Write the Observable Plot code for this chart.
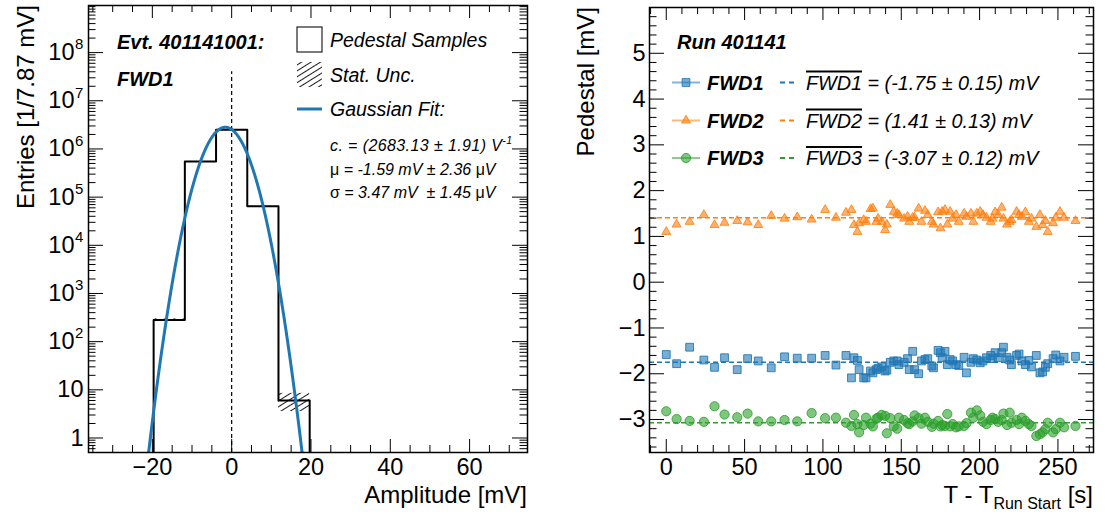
<!DOCTYPE html>
<html><head><meta charset="utf-8">
<script src="https://cdn.jsdelivr.net/npm/d3@7"></script>
<script src="https://cdn.jsdelivr.net/npm/@observablehq/plot@0.6"></script>
<style>
body{margin:0;background:#fff;}
#wrap{display:flex;width:1105px;height:516px;}
#wrap svg{font-family:"Liberation Sans",Arial,Helvetica,sans-serif;}
</style></head><body><div id="wrap"></div>
<script>
// ---------------- LEFT PANEL DATA ----------------
const binLeftEdges = [-19.675, -11.805, -3.935, 3.935, 11.805];
const binWidth = 7.87;
const binCounts = [280, 5.5e5, 2.5e6, 6.5e4, 6];
const fitMu = -1.59;      // mV
const fitSigma = 3.47;    // mV
const leftXTicksMajor = [-20, 0, 20, 40, 60];
const leftDecades = [0, 1, 2, 3, 4, 5, 6, 7, 8];

// ---------------- RIGHT PANEL DATA ----------------
const times = [0, 6.6, 14.9, 24.0, 30.8, 37.2, 45.3, 51.9, 58.7, 67.0, 75.5, 83.6, 92.8, 101.4, 108.3,
  114.7, 118.2, 119.8, 122.0, 123.1, 126.0, 127.5, 130.4, 131.9, 134.1, 135.2, 137.5, 139.7, 140.8, 143.0,
  145.2, 147.4, 148.5, 151.8, 154.0, 155.1, 157.3, 158.5, 161.1, 162.9, 165.1, 166.9, 169.5, 170.6, 173.5,
  175.0, 176.1, 177.9, 179.4, 181.2, 182.8, 185.0, 186.7, 190.1, 191.6, 194.5, 196.0, 198.2, 200.4, 202.2,
  204.4, 207.1, 208.2, 209.9, 211.9, 214.1, 215.2, 217.5, 219.2, 220.3, 223.6, 225.2, 227.0, 229.2, 231.4,
  233.1, 236.2, 238.5, 240.2, 242.0, 243.5, 246.9, 248.6, 251.3, 253.9, 261.2];
const fwd1 = [-1.58, -1.78, -1.42, -1.70, -1.86, -1.65, -1.91, -1.67, -1.72, -1.87, -1.63, -1.66, -1.66, -1.60, -1.81,
  -1.60, -2.09, -1.65, -1.71, -1.91, -2.09, -2.09, -1.94, -1.98, -1.91, -1.88, -1.85, -1.94, -1.92, -1.75,
  -1.72, -1.72, -1.80, -1.75, -1.67, -1.91, -1.51, -1.91, -2.00, -1.72, -1.69, -1.67, -1.83, -1.87, -1.49,
  -1.54, -1.65, -1.51, -1.80, -1.69, -1.72, -1.80, -1.82, -1.64, -1.98, -1.75, -1.67, -1.70, -1.76, -1.72,
  -1.65, -1.60, -1.67, -1.54, -1.65, -1.54, -1.42, -1.64, -1.70, -1.80, -1.60, -1.57, -1.72, -1.80, -1.71,
  -1.85, -1.60, -1.98, -1.96, -1.86, -1.78, -1.67, -1.59, -1.72, -1.64, -1.62];
const fwd2 = [1.10, 1.26, 1.32, 1.47, 1.25, 1.30, 1.34, 1.31, 1.25, 1.45, 1.39, 1.42, 1.37, 1.58, 1.41,
  1.52, 1.58, 1.25, 1.10, 1.29, 1.36, 1.32, 1.60, 1.61, 1.32, 1.39, 1.32, 1.14, 1.26, 1.69,
  1.54, 1.50, 1.47, 1.39, 1.43, 1.32, 1.41, 1.41, 1.61, 1.32, 1.56, 1.47, 1.32, 1.26, 1.53,
  1.18, 1.54, 1.58, 1.26, 1.54, 1.39, 1.47, 1.32, 1.50, 1.43, 1.50, 1.32, 1.50, 1.54, 1.47,
  1.41, 1.32, 1.39, 1.53, 1.47, 1.63, 1.39, 1.26, 1.32, 1.36, 1.54, 1.47, 1.43, 1.53, 1.32,
  1.39, 1.21, 1.47, 1.25, 1.34, 1.10, 1.29, 1.41, 1.54, 1.41, 1.34];
const fwd3 = [-2.82, -2.99, -3.03, -3.05, -2.71, -2.89, -2.95, -2.87, -3.04, -3.04, -3.01, -3.04, -2.86, -2.97, -2.96,
  -3.07, -3.14, -2.90, -3.10, -3.28, -3.12, -2.96, -3.09, -3.15, -2.98, -2.96, -2.90, -2.92, -3.30, -2.97,
  -3.15, -3.20, -2.96, -3.01, -3.08, -3.10, -3.04, -2.91, -2.97, -3.09, -2.96, -3.05, -3.16, -3.09, -3.03,
  -3.15, -3.12, -3.14, -2.88, -3.15, -3.10, -3.17, -3.15, -3.14, -3.08, -2.85, -2.96, -2.80, -2.91, -3.05,
  -3.10, -3.01, -2.96, -2.99, -3.05, -3.01, -2.87, -3.12, -2.85, -3.07, -3.01, -3.10, -2.96, -3.03, -3.10,
  -3.14, -3.36, -3.32, -3.28, -3.21, -3.07, -3.28, -3.21, -3.07, -3.17, -3.14];
const seriesNames = ["FWD1", "FWD2", "FWD3"];
const seriesColors = ["#1f77b4", "#ff7f0e", "#2ca02c"];
const seriesSymbols = ["square", "triangle", "circle"];
const meanValues = [-1.75, 1.41, -3.07];
const meanErrors = [0.15, 0.13, 0.12];
const rightXTicksMajor = [0, 50, 100, 150, 200, 250];
const rightYTicksMajor = [-3, -2, -1, 0, 1, 2, 3, 4, 5];

// ---------------- helpers ----------------
const FONT = '"Liberation Sans",Arial,Helvetica,sans-serif';
const H = 516;
const minus = v => (v < 0 ? "\u2212" + Math.abs(v) : String(v));

// ================= LEFT PANEL =================
const W1 = 552, mL1 = 88, mR1 = 25, mT1 = 5, mB1 = 64;
const fw1 = W1 - mL1 - mR1, fh1 = H - mT1 - mB1;
const yMin1 = 0.5, yMax1 = 9.5e8;

const histPts = [{x: binLeftEdges[0], y: yMin1}];
binLeftEdges.forEach((e, i) => {
  histPts.push({x: e, y: binCounts[i]});
  histPts.push({x: e + binWidth, y: binCounts[i]});
});
histPts.push({x: binLeftEdges[binLeftEdges.length - 1] + binWidth, y: yMin1});

const uncRects = binLeftEdges.map((e, i) => ({x1: e, x2: e + binWidth,
  y1: Math.max(yMin1, binCounts[i] - Math.sqrt(binCounts[i])), y2: binCounts[i] + Math.sqrt(binCounts[i])}));

const nTot = d3.sum(binCounts);
const fitAmp = nTot * binWidth / (Math.sqrt(2 * Math.PI) * fitSigma);
const fitCurve = d3.range(fitMu - 7 * fitSigma, fitMu + 7 * fitSigma, 0.05).map(x => ({
  x, y: fitAmp * Math.exp(-0.5 * ((x - fitMu) / fitSigma) ** 2)}));
const fitVisible = fitCurve.filter(d => d.y >= yMin1 * 0.6);

const logMajor = leftDecades.map(k => 10 ** k);
const logMinor = [];
for (let k = -1; k <= 8; k++) for (let m = 2; m <= 9; m++) {
  const v = m * 10 ** k; if (v >= yMin1 && v <= yMax1) logMinor.push(v);
}
const xMinor1 = d3.range(-35, 75, 5).filter(v => v % 20 !== 0);

const left = Plot.plot({
  width: W1, height: H, marginLeft: mL1, marginRight: mR1, marginTop: mT1, marginBottom: mB1,
  style: {fontFamily: FONT, background: "#fff"},
  x: {domain: [-36.1, 74.6], axis: null},
  y: {type: "log", domain: [yMin1, yMax1], axis: null},
  marks: [
    Plot.rect(uncRects, {x1: "x1", x2: "x2", y1: "y1", y2: "y2", fill: "url(#hatchL)", clip: true}),
    Plot.ruleX([0], {y1: yMin1, y2: 4e7, stroke: "#000", strokeWidth: 1.2, strokeDasharray: "4,3"}),
    Plot.line(histPts, {x: "x", y: "y", stroke: "#000", strokeWidth: 2, clip: true}),
    Plot.line(fitVisible, {x: "x", y: "y", stroke: "#1f77b4", strokeWidth: 3, clip: true}),
    // ticks
    Plot.tickY(logMajor, {y: d => d, insetRight: fw1 - 15, stroke: "#000"}),
    Plot.tickY(logMajor, {y: d => d, insetLeft: fw1 - 15, stroke: "#000"}),
    Plot.tickY(logMinor, {y: d => d, insetRight: fw1 - 7.5, stroke: "#000"}),
    Plot.tickY(logMinor, {y: d => d, insetLeft: fw1 - 7.5, stroke: "#000"}),
    Plot.tickX(leftXTicksMajor, {x: d => d, insetTop: fh1 - 13, stroke: "#000"}),
    Plot.tickX(leftXTicksMajor, {x: d => d, insetBottom: fh1 - 13, stroke: "#000"}),
    Plot.tickX(xMinor1, {x: d => d, insetTop: fh1 - 7, stroke: "#000"}),
    Plot.tickX(xMinor1, {x: d => d, insetBottom: fh1 - 7, stroke: "#000"}),
    // tick labels
    Plot.text(leftXTicksMajor, {x: d => d, text: d => minus(d), frameAnchor: "bottom", dy: 15,
      lineAnchor: "middle", fontSize: 23.5, fill: "#000"}),
    Plot.text(logMajor.filter(v => v < 100), {y: d => d, text: d => String(d), frameAnchor: "left",
      textAnchor: "end", dx: -5, lineAnchor: "middle", fontSize: 23.5, fill: "#000"}),
    Plot.text(logMajor.filter(v => v >= 100), {y: d => d, text: () => "10", frameAnchor: "left",
      textAnchor: "end", dx: -14, lineAnchor: "middle", fontSize: 23.5, fill: "#000"}),
    Plot.text(logMajor.filter(v => v >= 100), {y: d => d, text: d => String(Math.round(Math.log10(d))),
      frameAnchor: "left", textAnchor: "start", dx: -13.5, dy: -8, lineAnchor: "middle", fontSize: 15, fill: "#000"}),
    Plot.frame({stroke: "#000", strokeWidth: 1.5})
  ]
});

// ================= RIGHT PANEL =================
const W2 = 553, mL2 = 97, mR2 = 12, mT2 = 7, mB2 = 64;
const fw2 = W2 - mL2 - mR2, fh2 = H - mT2 - mB2;
const seriesValues = [fwd1, fwd2, fwd3];
const rows = seriesValues.map((vals, s) => times.map((t, i) => ({t, v: vals[i], s: seriesNames[s]})));
const xMinor2 = d3.range(-10, 271, 10).filter(v => v % 50 !== 0);
const yMinor2 = d3.range(-3.6, 6.0, 0.2).map(v => Math.round(v * 10) / 10).filter(v => Math.abs(v - Math.round(v)) > 1e-6);
const symR = [4.4, 3.3, 4.6];

const right = Plot.plot({
  width: W2, height: H, marginLeft: mL2, marginRight: mR2, marginTop: mT2, marginBottom: mB2,
  style: {fontFamily: FONT, background: "#fff"},
  x: {domain: [-10.7, 272.7], axis: null},
  y: {domain: [-3.72, 6.0], axis: null},
  marks: [
    ...meanValues.map((m, s) => Plot.ruleY([m], {y: d => d, stroke: seriesColors[s], strokeWidth: 1.5, strokeDasharray: "5,3"})),
    ...rows.map((r, s) => Plot.dot(r, {x: "t", y: "v", symbol: seriesSymbols[s], r: symR[s],
      fill: seriesColors[s], fillOpacity: 0.6, stroke: seriesColors[s], strokeOpacity: 0.85, strokeWidth: 1})),
    Plot.tickY(rightYTicksMajor, {y: d => d, insetRight: fw2 - 15, stroke: "#000"}),
    Plot.tickY(rightYTicksMajor, {y: d => d, insetLeft: fw2 - 15, stroke: "#000"}),
    Plot.tickY(yMinor2, {y: d => d, insetRight: fw2 - 7.5, stroke: "#000"}),
    Plot.tickY(yMinor2, {y: d => d, insetLeft: fw2 - 7.5, stroke: "#000"}),
    Plot.tickX(rightXTicksMajor, {x: d => d, insetTop: fh2 - 13, stroke: "#000"}),
    Plot.tickX(rightXTicksMajor, {x: d => d, insetBottom: fh2 - 13, stroke: "#000"}),
    Plot.tickX(xMinor2, {x: d => d, insetTop: fh2 - 7, stroke: "#000"}),
    Plot.tickX(xMinor2, {x: d => d, insetBottom: fh2 - 7, stroke: "#000"}),
    Plot.text(rightXTicksMajor, {x: d => d, text: d => String(d), frameAnchor: "bottom", dy: 15,
      lineAnchor: "middle", fontSize: 23.5, fill: "#000"}),
    Plot.text(rightYTicksMajor, {y: d => d, text: d => minus(d), frameAnchor: "left", textAnchor: "end",
      dx: -4, lineAnchor: "middle", fontSize: 23.5, fill: "#000"}),
    Plot.frame({stroke: "#000", strokeWidth: 1.5})
  ]
});

const wrap = document.getElementById("wrap");
wrap.appendChild(left);
wrap.appendChild(right);

// ---------- decorations (titles, legends) ----------
const sL = d3.select(left);
const defs = sL.append("defs");
const pat = defs.append("pattern").attr("id", "hatchL").attr("patternUnits", "userSpaceOnUse")
  .attr("width", 5).attr("height", 5).attr("patternTransform", "rotate(-32)");
pat.append("line").attr("x1", 0).attr("y1", 2.5).attr("x2", 5).attr("y2", 2.5).attr("stroke", "#000").attr("stroke-width", 0.9);
left.insertBefore(defs.node(), left.firstChild);

function txt(svg, x, y, str, opt = {}) {
  const t = svg.append("text").attr("x", x).attr("y", y).attr("fill", "#000")
    .attr("font-size", opt.size || 19).attr("font-style", opt.italic ? "italic" : "normal")
    .attr("font-weight", opt.bold ? "bold" : "normal").attr("text-anchor", opt.anchor || "start")
    .attr("font-family", FONT);
  if (opt.rotate) t.attr("transform", `rotate(${opt.rotate},${x},${y})`);
  t.text(str);
  return t;
}
// axis titles (left)
txt(sL, 34, 5, "Entries [1/7.87 mV]", {size: 24, anchor: "end", rotate: -90});
txt(sL, W1 - mR1, 503, "Amplitude [mV]", {size: 24, anchor: "end"});
txt(sL, 117, 49, "Evt. 401141001:", {size: 20, bold: true, italic: true});
txt(sL, 117, 86, "FWD1", {size: 20, bold: true, italic: true});
// left legend
sL.append("rect").attr("x", 297).attr("y", 27).attr("width", 25).attr("height", 25)
  .attr("fill", "none").attr("stroke", "#222").attr("stroke-width", 1.2);
txt(sL, 330, 47, "Pedestal Samples", {size: 19.5, italic: true});
sL.append("rect").attr("x", 297).attr("y", 62).attr("width", 25).attr("height", 25).attr("fill", "url(#hatchL)");
txt(sL, 330, 82, "Stat. Unc.", {size: 19.5, italic: true});
sL.append("line").attr("x1", 297).attr("x2", 322).attr("y1", 109).attr("y2", 109)
  .attr("stroke", "#1f77b4").attr("stroke-width", 3);
txt(sL, 330, 116, "Gaussian Fit:", {size: 19.5, italic: true});
const c1 = txt(sL, 330, 151, "c. = (2683.13 \u00b1 1.91) V", {size: 16, italic: true}).attr("letter-spacing", 0.4);
c1.append("tspan").attr("dy", -7).attr("font-size", 10.5).text("-1");
const c2 = txt(sL, 330, 174.5, "", {size: 16, italic: true});
c2.append("tspan").attr("font-style", "normal").text("\u03bc");
c2.append("tspan").text(" = -1.59 mV \u00b1 2.36 ");
c2.append("tspan").attr("font-style", "normal").text("\u03bc");
c2.append("tspan").text("V");
const c3 = txt(sL, 330, 197.5, "", {size: 16, italic: true});
c3.append("tspan").attr("font-style", "normal").text("\u03c3");
c3.append("tspan").text(" = 3.47 mV \u00a0\u00b1 1.45 ");
c3.append("tspan").attr("font-style", "normal").text("\u03bc");
c3.append("tspan").text("V");

// right panel texts
const sR = d3.select(right);
txt(sR, 42, 7, "Pedestal [mV]", {size: 24, anchor: "end", rotate: -90});
const xt = txt(sR, W2 - mR2, 503, "T - T", {size: 24, anchor: "end"});
xt.append("tspan").attr("font-size", 16).attr("dy", 6).text("Run Start");
xt.append("tspan").attr("dy", -6).text(" [s]");
txt(sR, 677 - 552, 49, "Run 401141", {size: 20, bold: true, italic: true});
const rowY = [82.5, 120.5, 158];
seriesNames.forEach((nm, s) => {
  const y = rowY[s], c = seriesColors[s];
  sR.append("line").attr("x1", 120).attr("x2", 148).attr("y1", y).attr("y2", y)
    .attr("stroke", c).attr("stroke-opacity", 0.55).attr("stroke-width", 2);
  const sym = d3.symbol().type(s === 0 ? d3.symbolSquare : s === 1 ? d3.symbolTriangle : d3.symbolCircle)
    .size(Math.PI * symR[s] ** 2);
  sR.append("path").attr("d", sym()).attr("transform", `translate(134,${y})`)
    .attr("fill", c).attr("fill-opacity", 0.6).attr("stroke", c).attr("stroke-opacity", 0.85);
  txt(sR, 155, y + 7, nm, {size: 20, bold: true, italic: true});
  sR.append("line").attr("x1", 228).attr("x2", 245).attr("y1", y).attr("y2", y)
    .attr("stroke", c).attr("stroke-width", 2).attr("stroke-dasharray", "5,4");
  const t = txt(sR, 254, y + 7, "", {size: 19.8, italic: true});
  t.append("tspan").attr("text-decoration", "overline").style("text-decoration", "overline").text(nm);
  t.append("tspan").text(` = (${meanValues[s].toFixed(2)} \u00b1 ${meanErrors[s].toFixed(2)}) mV`);
});
</script></body></html>
